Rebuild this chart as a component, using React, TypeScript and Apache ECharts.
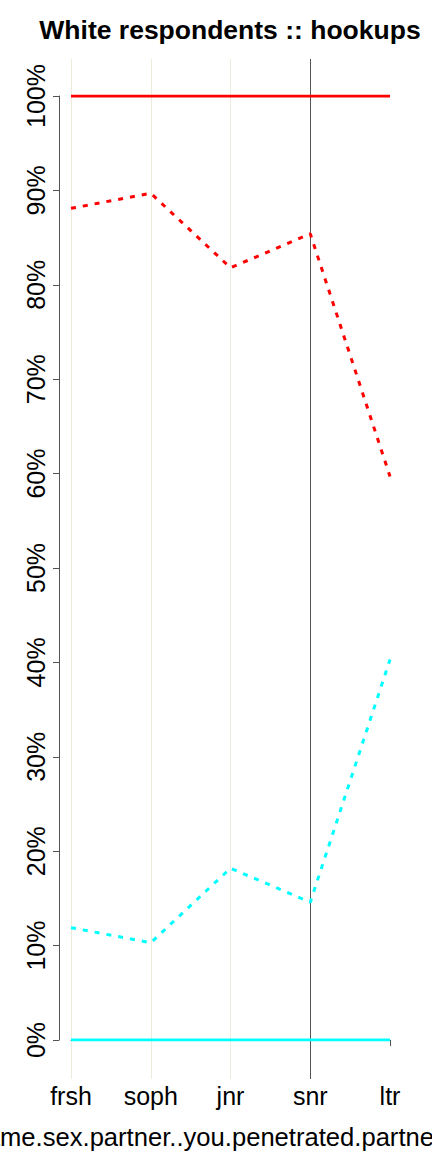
import React, { useEffect, useRef } from "react";
import * as echarts from "echarts";

// Class years on the horizontal axis
const years = ["frsh", "soph", "jnr", "snr", "ltr"];

// Share of hookups (fractions)
const redSolid = [1, 1, 1, 1, 1];
const redDashed = [0.881, 0.897, 0.818, 0.854, 0.597];
const cyanDashed = [0.119, 0.103, 0.182, 0.146, 0.403];
const cyanSolid = [0, 0, 0, 0, 0];

// Vertical guide colours, one per class year
const guideColors = ["#efebdb", "#efebdb", "#efebdb", "#555555", "rgba(0,0,0,0)"];

const titleText = "White respondents :: hookups";
const xName = "same.sex.partner..you.penetrated.partner..";

const FONT = "'Liberation Sans', Arial, Helvetica, sans-serif";

export default function App() {
  const ref = useRef<HTMLDivElement>(null);

  useEffect(() => {
    document.body.style.margin = "0";
    const chart = echarts.init(ref.current!, null, { renderer: "svg" });
    const axisColor = "#555555";

    chart.setOption({
      animation: false,
      backgroundColor: "#ffffff",
      textStyle: { fontFamily: FONT },
      grid: [
        { left: 71, right: 42, top: 96, bottom: 112, containLabel: false },
        { left: 71, right: 42, top: 59, bottom: 73, containLabel: false },
      ],
      xAxis: [
        {
          type: "category",
          gridIndex: 0,
          data: years,
          boundaryGap: false,
          offset: 38,
          axisLine: { show: true, lineStyle: { color: axisColor, width: 1 } },
          axisTick: { show: true, length: 6, alignWithLabel: true, lineStyle: { color: axisColor } },
          axisLabel: { fontSize: 25, color: "#000", margin: 5, fontFamily: FONT },
          splitLine: { show: false },
        },
        {
          type: "category",
          gridIndex: 1,
          data: years,
          boundaryGap: false,
          z: 3,
          axisLine: { show: false },
          axisTick: { show: false },
          axisLabel: { show: false },
          splitLine: {
            show: true,
            lineStyle: { color: guideColors, width: 1 },
          },
        },
      ],
      yAxis: [
        {
          type: "value",
          gridIndex: 0,
          min: 0,
          max: 1,
          interval: 0.1,
          offset: 12,
          axisLine: { show: true, lineStyle: { color: axisColor, width: 1 } },
          axisTick: { show: true, length: 6, lineStyle: { color: axisColor } },
          axisLabel: {
            rotate: 90,
            fontSize: 25,
            color: "#000",
            margin: 11,
            fontFamily: FONT,
            formatter: (v: number) => `${Math.round(v * 100)}%`,
          },
          splitLine: { show: false },
        },
        { type: "value", gridIndex: 1, min: 0, max: 1, show: false },
      ],
      series: [
        {
          type: "line",
          data: redSolid,
          showSymbol: false,
          lineStyle: { color: "#ff0000", width: 3 },
        },
        {
          type: "line",
          data: redDashed,
          showSymbol: false,
          lineStyle: { color: "#ff0000", width: 3, type: [5, 7] },
        },
        {
          type: "line",
          data: cyanDashed,
          showSymbol: false,
          lineStyle: { color: "#00ffff", width: 3, type: [5, 7] },
        },
        {
          type: "line",
          data: cyanSolid,
          showSymbol: false,
          lineStyle: { color: "#00ffff", width: 3 },
        },
      ],
      graphic: [
        {
          type: "text",
          x: 230,
          y: 30,
          style: {
            text: titleText,
            font: `bold 26.5px ${FONT}`,
            fill: "#000",
            textAlign: "center",
            textVerticalAlign: "middle",
          },
        },
        {
          type: "text",
          x: -27,
          y: 1137,
          style: {
            text: xName,
            font: `25.6px ${FONT}`,
            fill: "#000",
            textAlign: "left",
            textVerticalAlign: "middle",
          },
        },
      ],
    });

    return () => chart.dispose();
  }, []);

  return <div ref={ref} style={{ width: 432, height: 1152 }} />;
}
